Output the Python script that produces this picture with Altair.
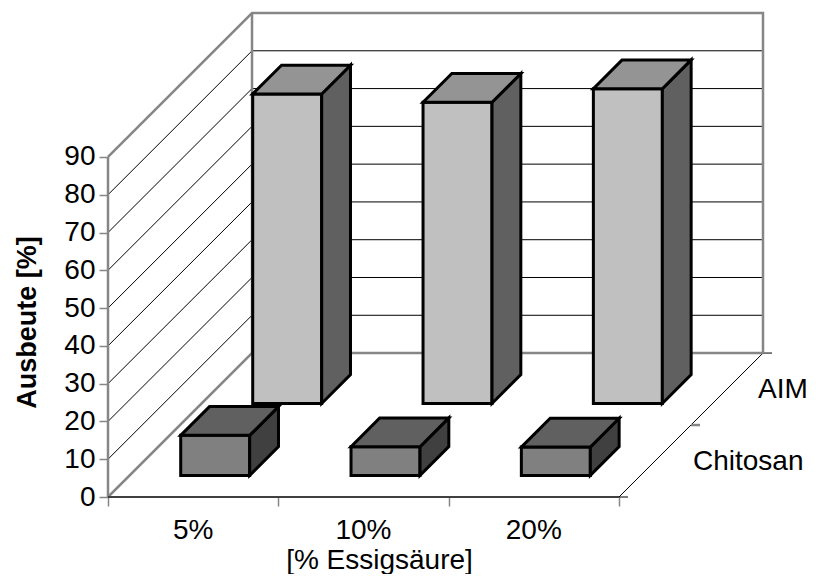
import altair as alt
import pandas as pd

categories = ["5%", "10%", "20%"]
series = ["Chitosan", "AIM"]
chitosan = [10.6, 7.6, 7.5]
aim = [81.9, 79.7, 83.3]
value_ticks = [0, 10, 20, 30, 40, 50, 60, 70, 80, 90]

FONT = "Liberation Sans"
FS = 28
GRAY = "#868686"
# oblique projection: one depth slot moves kx categories right and ky value units up
kx = 72 / 170.3
ky = 72 / 3.78
XMAX = 3 + 2 * kx
YMAX = 90 + 2 * ky
W, H = 655, 484
TICK = 9 / 170.3
BAR_OFF, BAR_W = 0.3, 0.405
D_OFF, D_W = 0.3, 0.4

face_colors = {
    "AIM": ("#c0c0c0", "#606060", "#949494"),
    "Chitosan": ("#808080", "#404040", "#606060"),
}

vert, top = [], []
for sname, vals in (("AIM", aim), ("Chitosan", chitosan)):
    s = series.index(sname)
    f_front, f_side, f_top = face_colors[sname]
    d0 = s + D_OFF
    for c, v in enumerate(vals):
        xl = c + BAR_OFF + d0 * kx
        xr = xl + BAR_W
        yb = d0 * ky
        yt = yb + v
        dx, dy = D_W * kx, D_W * ky
        fid = f"{sname}-{c}"
        vert += [
            dict(id=fid + "f", s=sname, fill=f_front, x=xl, y=yt, y2=yb),
            dict(id=fid + "f", s=sname, fill=f_front, x=xr, y=yt, y2=yb),
            dict(id=fid + "s", s=sname, fill=f_side, x=xr, y=yt, y2=yb),
            dict(id=fid + "s", s=sname, fill=f_side, x=xr + dx, y=yt + dy, y2=yb + dy),
        ]
        top += [
            dict(id=fid + "t", s=sname, fill=f_top, y=yt, x=xl, x2=xr),
            dict(id=fid + "t", s=sname, fill=f_top, y=yt + dy, x=xl + dx, x2=xr + dx),
        ]
vert = pd.DataFrame(vert)
top = pd.DataFrame(top)

thin, thick, dark = [], [], []


def path(store, name, pts):
    for i, (x, y) in enumerate(pts):
        store.append(dict(id=name, o=i, x=x, y=y))


for v in value_ticks[1:-1]:
    path(thin, f"g{v}", [(0, v), (2 * kx, v + 2 * ky), (3 + 2 * kx, v + 2 * ky)])
path(thick, "top", [(0, 90), (2 * kx, 90 + 2 * ky), (3 + 2 * kx, 90 + 2 * ky), (3 + 2 * kx, 2 * ky)])
path(thick, "back", [(2 * kx, 90 + 2 * ky), (2 * kx, 2 * ky)])
path(thick, "floor", [(0, 0), (2 * kx, 2 * ky), (3 + 2 * kx, 2 * ky)])
path(thick, "left", [(0, 0), (0, 90)])
path(dark, "front", [(0, 0), (3, 0)])
path(thin, "right", [(3, 0), (3 + 2 * kx, 2 * ky)])
for s in (0, 1, 2):
    path(thin if s != 1 else thick, f"dt{s}", [(3 + s * kx, s * ky), (3 + s * kx + TICK, s * ky)])
thin, thick, dark = pd.DataFrame(thin), pd.DataFrame(thick), pd.DataFrame(dark)

x_sc = alt.Scale(domain=[0, XMAX], nice=False, zero=False)
y_sc = alt.Scale(domain=[0, YMAX], nice=False, zero=False)
AX = alt.Axis(
    values=[0, 1, 2, 3], labels=False, domain=False, grid=False,
    tickColor=GRAY, tickSize=9, tickWidth=1.5,
    title="[% Essigsäure]", titleFont=FONT, titleFontSize=FS, titleFontWeight="normal",
    titleColor="black", titleX=271, titleY=71, titleBaseline="alphabetic",
)
AY = alt.Axis(
    values=value_ticks, domain=False, grid=False,
    tickColor=GRAY, tickSize=9, tickWidth=1.5, labelPadding=4,
    labelFont=FONT, labelFontSize=FS, labelColor="black",
    title="Ausbeute [%]", titleFont=FONT, titleFontSize=27, titleFontWeight="bold",
    titleColor="black", titleX=-73, titleY=309, titleBaseline="alphabetic",
)
X = alt.X("x:Q", scale=x_sc, axis=AX)
Y = alt.Y("y:Q", scale=y_sc, axis=AY)


def line_layer(df, color, width):
    return alt.Chart(df).mark_line(color=color, strokeWidth=width, clip=False).encode(
        x=X, y=Y, detail="id:N", order="o:Q"
    )


def bars(name):
    v = vert[vert.s == name]
    t = top[top.s == name]
    vl = alt.Chart(v).mark_area(stroke="black", strokeWidth=3, strokeJoin="miter").encode(
        x=X, y=Y, y2="y2:Q", detail="id:N", fill=alt.Fill("fill:N", scale=None)
    )
    tl = alt.Chart(t).mark_area(orient="horizontal", stroke="black", strokeWidth=3, strokeJoin="miter").encode(
        y=Y, x=X, x2="x2:Q", detail="id:N", fill=alt.Fill("fill:N", scale=None)
    )
    return [vl, tl]


cat_df = pd.DataFrame({"x": [i + 0.5 for i in range(3)], "y": [0.0] * 3, "t": categories})
cat_labels = alt.Chart(cat_df).mark_text(
    font=FONT, fontSize=FS, dy=42, baseline="alphabetic", color="black"
).encode(x=X, y=Y, text="t:N")


def ser_label(i, dx):
    df = pd.DataFrame({"x": [3 + (i + 0.5) * kx], "y": [(i + 0.5) * ky], "t": [series[i]]})
    return alt.Chart(df).mark_text(
        font=FONT, fontSize=FS, dx=dx, dy=9, align="left", baseline="alphabetic", color="black"
    ).encode(x=X, y=Y, text="t:N")


chart = alt.layer(
    line_layer(thin, "black", 1),
    line_layer(thick, GRAY, 2.5),
    line_layer(dark, "#404040", 2),
    *bars("AIM"),
    *bars("Chitosan"),
    cat_labels,
    ser_label(0, 38),
    ser_label(1, 31),
).properties(
    width=W, height=H,
    autosize=alt.AutoSizeParams(type="none"),
    padding={"left": 100, "top": 5, "right": 45, "bottom": 77},
).configure_view(stroke=None)

chart.save("out.html", embed_options={"renderer": "svg", "actions": False})
